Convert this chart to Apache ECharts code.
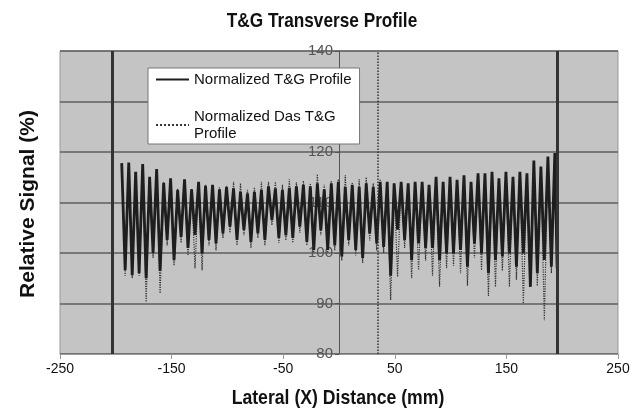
<!DOCTYPE html>
<html>
<head>
    <meta charset="utf-8">
    <title>T&amp;G Transverse Profile</title>
    <script src="https://cdn.jsdelivr.net/npm/echarts@6/dist/echarts.min.js"></script>
</head>
<body style="margin:0;background:#fff;">
    <div id="main" style="width: 636px;height:417px;"></div>
    <script type="text/javascript">
    // x positions (mm) of each oscillation peak and the following trough
    var peakX = [-194.7, -188.4, -182.2, -175.9, -169.7, -163.4, -157.1, -150.9, -144.6, -138.4,
        -132.1, -125.8, -119.6, -113.3, -107.1, -100.8, -94.5, -88.3, -82.0, -75.8,
        -69.5, -63.2, -57.0, -50.7, -44.5, -38.2, -31.9, -25.7, -19.4, -13.2,
        -6.9, -0.6, 5.6, 11.9, 18.1, 24.4, 30.7, 36.9, 43.2, 49.4,
        55.7, 62.0, 68.2, 74.5, 80.7, 87.0, 93.3, 99.5, 105.8, 112.0,
        118.3, 124.6, 130.8, 137.1, 143.3, 149.6, 155.9, 162.1, 168.4, 174.6,
        180.9, 187.2, 193.4];
    var troughX = [-191.6, -185.3, -179.1, -172.8, -166.6, -160.3, -154.0, -147.8, -141.5, -135.3,
        -129.0, -122.7, -116.5, -110.2, -104.0, -97.7, -91.4, -85.2, -78.9, -72.7,
        -66.4, -60.1, -53.9, -47.6, -41.4, -35.1, -28.8, -22.6, -16.3, -10.1,
        -3.8, 2.5, 8.7, 15.0, 21.2, 27.5, 33.8, 40.0, 46.3, 52.5,
        58.8, 65.1, 71.3, 77.6, 83.8, 90.1, 96.4, 102.6, 108.9, 115.1,
        121.4, 127.7, 133.9, 140.2, 146.4, 152.7, 159.0, 165.2, 171.5, 177.7,
        184.0, 190.3, 195.5];

    // Normalized T&G profile (%)
    var solidPeak = [117.8, 117.9, 116.1, 117.6, 115.1, 116.6, 113.9, 114.8, 112.5, 114.6,
        112.6, 114.1, 113.3, 113.5, 112.6, 113.1, 112.8, 112.1, 111.8, 112.1,
        112.5, 113.2, 112.8, 112.5, 112.9, 113.2, 113.5, 113.2, 113.8, 112.6,
        113.8, 114.1, 113.1, 113.5, 113.1, 113.8, 113.1, 114.1, 114.1, 113.8,
        114.1, 113.8, 114.1, 114.1, 113.5, 115.1, 114.1, 115.1, 114.5, 115.4,
        114.1, 115.8, 115.8, 116.1, 114.8, 116.1, 115.1, 116.1, 115.8, 118.3,
        117.1, 119.1, 119.8];
    var solidTrough = [96.6, 95.6, 96.0, 95.0, 100.0, 96.5, 102.6, 98.6, 103.2, 101.0,
        103.6, 99.9, 102.6, 101.9, 103.9, 105.2, 102.6, 104.6, 102.2, 103.9,
        102.6, 106.5, 103.0, 103.5, 103.0, 105.2, 102.2, 100.6, 104.5, 100.6,
        101.5, 99.3, 102.6, 100.6, 99.0, 103.9, 101.9, 101.2, 95.5, 104.6,
        102.6, 98.6, 101.9, 101.0, 101.0, 98.6, 99.9, 99.9, 100.6, 97.3,
        101.9, 99.9, 96.0, 98.6, 99.3, 99.9, 97.3, 99.9, 93.3, 96.0,
        98.6, 97.3, 97.0];

    // Normalized Das T&G profile (%)
    var dasPeak = [117.0, 117.5, 116.0, 117.0, 115.0, 116.0, 114.0, 114.5, 112.8, 114.3,
        112.8, 114.0, 113.5, 113.5, 113.0, 113.3, 114.1, 113.8, 112.5, 113.0,
        114.1, 114.1, 114.1, 113.5, 114.6, 114.0, 114.3, 113.8, 115.6, 113.5,
        114.3, 114.6, 115.4, 114.0, 114.6, 115.0, 113.8, 114.6, 114.0, 113.8,
        114.0, 113.6, 114.0, 114.0, 113.4, 114.8, 114.0, 114.8, 114.3, 115.0,
        114.0, 115.5, 115.5, 115.8, 114.6, 115.8, 115.0, 115.8, 115.5, 117.8,
        116.8, 118.5, 119.0];
    var dasTrough = [95.5, 95.0, 95.5, 90.3, 99.0, 92.0, 101.5, 97.5, 102.0, 99.5,
        97.0, 96.6, 101.5, 100.5, 103.0, 104.0, 101.5, 103.5, 101.0, 103.0,
        101.5, 105.5, 102.0, 102.5, 102.0, 104.0, 101.5, 100.0, 103.5, 100.0,
        100.5, 98.5, 101.5, 99.5, 98.0, 102.5, 100.5, 100.0, 90.7, 95.3,
        101.0, 95.0, 96.6, 98.5, 95.5, 93.3, 97.0, 97.5, 96.0, 93.5,
        99.0, 96.6, 91.5, 93.3, 96.5, 93.3, 94.7, 90.0, 94.5, 93.5,
        86.7, 96.0, 87.7];

    // vertical spikes at the field edges
    var solidEdges = [-203, 196];
    var dasEdges = [35];

    var seriesNames = ['Normalized T&G Profile', 'Normalized Das T&G\nProfile'];

    function zigzag(peaks, troughs) {
        var out = [];
        for (var i = 0; i < peakX.length; i++) {
            out.push([peakX[i], peaks[i]]);
            out.push([troughX[i], troughs[i]]);
        }
        return out;
    }

    var sans = "'Liberation Sans', Arial, Helvetica, sans-serif";
    var myChart = echarts.init(document.getElementById('main'));

    var option = {
        animation: false,
        backgroundColor: '#fff',
        textStyle: { fontFamily: sans },
        legend: {
            orient: 'vertical',
            left: 148,
            top: 68,
            padding: [3, 8, 2, 7],
            itemGap: 20,
            itemWidth: 33,
            itemHeight: 12,
            backgroundColor: '#fff',
            borderColor: '#777',
            borderWidth: 1,
            borderRadius: 0,
            itemStyle: { opacity: 0 },
            data: seriesNames,
            textStyle: { fontFamily: sans, fontSize: 15, lineHeight: 17, color: '#111' }
        },
        grid: {
            left: 60, right: 18, top: 51, bottom: 63,
            show: true,
            backgroundColor: '#c4c4c4',
            borderColor: '#999',
            borderWidth: 1
        },
        xAxis: {
            type: 'value',
            min: -250, max: 250, interval: 100,
            axisLine: { onZero: false, lineStyle: { color: '#999' } },
            axisTick: { show: true, length: 5, lineStyle: { color: '#999' } },
            axisLabel: { fontSize: 14, color: '#111', margin: 8 },
            splitLine: { show: false }
        },
        yAxis: {
            type: 'value',
            min: 80, max: 140, interval: 10,
            offset: -279,
            axisLine: { show: true, onZero: false, lineStyle: { color: '#555', width: 1 } },
            axisTick: { show: true, length: 4, lineStyle: { color: '#555' } },
            axisLabel: { fontSize: 15, color: '#555', margin: 6 },
            splitLine: { show: true, lineStyle: { color: '#5e5e5e', width: 1.5 } }
        },
        graphic: [{
            type: 'text',
            x: 322,
            y: 21,
            scaleX: 0.82,
            style: {
                text: 'T&G Transverse Profile',
                font: "bold 21px 'Liberation Sans', Arial, sans-serif",
                fill: '#111',
                textAlign: 'center',
                textVerticalAlign: 'middle'
            }
        }, {
            type: 'text',
            x: 338,
            y: 398,
            scaleX: 0.84,
            style: {
                text: 'Lateral (X) Distance (mm)',
                font: "bold 21px 'Liberation Sans', Arial, sans-serif",
                fill: '#111',
                textAlign: 'center',
                textVerticalAlign: 'middle'
            }
        }, {
            type: 'text',
            x: 28,
            y: 204,
            rotation: Math.PI / 2,
            style: {
                text: 'Relative Signal (%)',
                font: "bold 21px 'Liberation Sans', Arial, sans-serif",
                fill: '#111',
                textAlign: 'center',
                textVerticalAlign: 'middle'
            }
        }],
        series: [
            {
                name: seriesNames[1],
                type: 'line',
                z: 2,
                showSymbol: false,
                symbol: 'none',
                data: zigzag(dasPeak, dasTrough),
                lineStyle: { color: '#333', width: 1.2, type: 'dotted' },
                itemStyle: { color: '#333' },
                markLine: {
                    silent: true,
                    symbol: 'none',
                    label: { show: false },
                    lineStyle: { color: '#333', width: 1.5, type: 'dotted' },
                    data: dasEdges.map(function (x) { return { xAxis: x }; })
                }
            },
            {
                name: seriesNames[0],
                type: 'line',
                z: 3,
                showSymbol: false,
                symbol: 'none',
                data: zigzag(solidPeak, solidTrough),
                lineStyle: { color: '#1e1e1e', width: 2.8 },
                itemStyle: { color: '#1e1e1e' },
                markLine: {
                    silent: true,
                    symbol: 'none',
                    label: { show: false },
                    lineStyle: { color: '#333', width: 3, type: 'solid' },
                    data: solidEdges.map(function (x) { return { xAxis: x }; })
                }
            }
        ]
    };

    myChart.setOption(option);
    </script>
</body>
</html>
